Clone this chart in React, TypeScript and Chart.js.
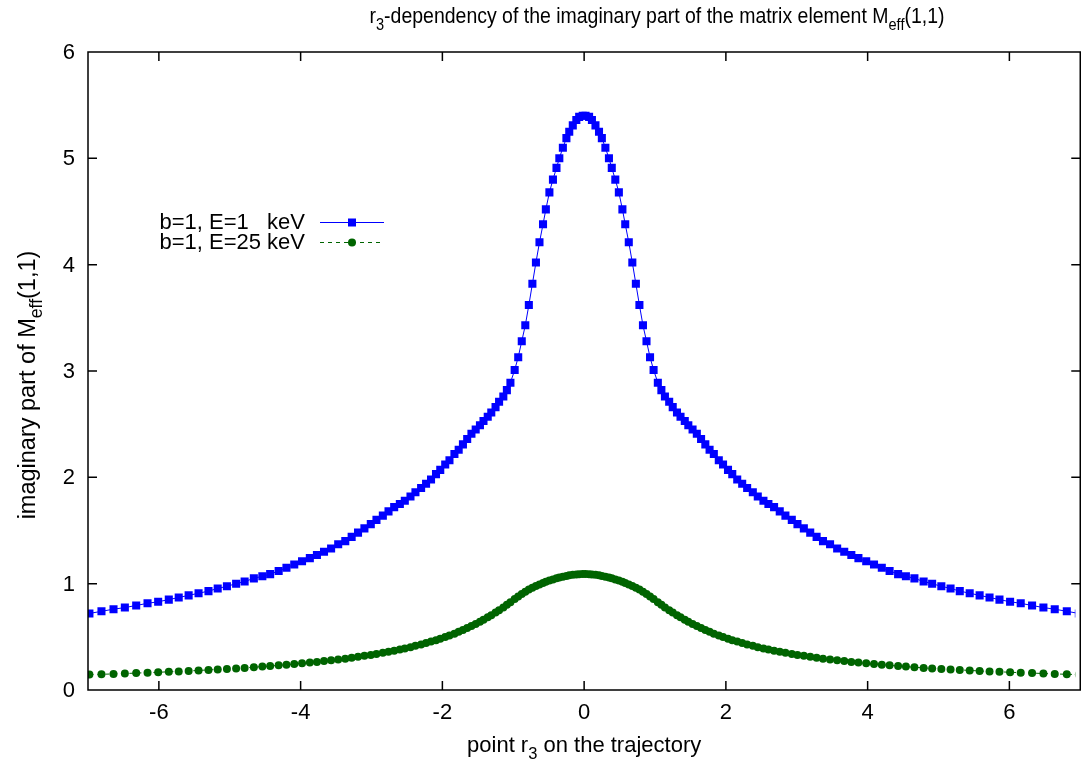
import React, { useEffect, useRef } from "react";
import { Chart, registerables } from "chart.js";

Chart.register(...registerables);

// r3 sample positions along the trajectory
const xValues = [
  -6.98, -6.81, -6.64, -6.48, -6.32, -6.16, -6.01, -5.86, -5.72, -5.58, -5.44, -5.30, -5.17, -5.04,
  -4.91, -4.79, -4.66, -4.54, -4.43, -4.31, -4.20, -4.09, -3.98, -3.87, -3.77, -3.67, -3.57, -3.47,
  -3.37, -3.28, -3.19, -3.10, -3.01, -2.93, -2.84, -2.76, -2.68, -2.60, -2.53, -2.45, -2.38, -2.30,
  -2.23, -2.16, -2.09, -2.03, -1.96, -1.90, -1.83, -1.77, -1.71, -1.65, -1.59, -1.53, -1.47, -1.42,
  -1.36, -1.31, -1.25, -1.20, -1.14, -1.09, -1.04, -0.98, -0.93, -0.88, -0.83, -0.78, -0.73, -0.68,
  -0.63, -0.58, -0.54, -0.49, -0.44, -0.39, -0.35, -0.30, -0.25, -0.21, -0.16, -0.11, -0.07, -0.02,
  0.02, 0.07, 0.11, 0.16, 0.21, 0.25, 0.30, 0.35, 0.39, 0.44, 0.49, 0.54, 0.58, 0.63,
  0.68, 0.73, 0.78, 0.83, 0.88, 0.93, 0.98, 1.04, 1.09, 1.14, 1.20, 1.25, 1.31, 1.36,
  1.42, 1.47, 1.53, 1.59, 1.65, 1.71, 1.77, 1.83, 1.90, 1.96, 2.03, 2.09, 2.16, 2.23,
  2.30, 2.38, 2.45, 2.53, 2.60, 2.68, 2.76, 2.84, 2.93, 3.01, 3.10, 3.19, 3.28, 3.37,
  3.47, 3.57, 3.67, 3.77, 3.87, 3.98, 4.09, 4.20, 4.31, 4.43, 4.54, 4.66, 4.79, 4.91,
  5.04, 5.17, 5.30, 5.44, 5.58, 5.72, 5.86, 6.01, 6.16, 6.32, 6.48, 6.64, 6.81, 6.98,
];

// b=1, E=1 keV
const blueValues = [
  0.72, 0.74, 0.76, 0.775, 0.795, 0.815, 0.83, 0.85, 0.87, 0.89, 0.91, 0.93, 0.955, 0.975,
  1.00, 1.02, 1.05, 1.07, 1.09, 1.12, 1.15, 1.18, 1.21, 1.24, 1.27, 1.30, 1.33, 1.37,
  1.40, 1.44, 1.48, 1.52, 1.56, 1.60, 1.64, 1.68, 1.72, 1.75, 1.78, 1.82, 1.86, 1.90,
  1.94, 1.98, 2.03, 2.07, 2.12, 2.16, 2.22, 2.26, 2.31, 2.36, 2.41, 2.45, 2.49, 2.53,
  2.57, 2.61, 2.66, 2.71, 2.76, 2.82, 2.89, 3.01, 3.13, 3.28, 3.43, 3.62, 3.82, 4.02,
  4.21, 4.38, 4.52, 4.68, 4.80, 4.91, 5.00, 5.10, 5.19, 5.25, 5.31, 5.36, 5.39, 5.40,
  5.40, 5.39, 5.36, 5.31, 5.25, 5.19, 5.10, 5.00, 4.91, 4.80, 4.68, 4.52, 4.38, 4.21,
  4.02, 3.82, 3.62, 3.43, 3.28, 3.13, 3.01, 2.89, 2.82, 2.76, 2.71, 2.66, 2.61, 2.57,
  2.53, 2.49, 2.45, 2.41, 2.36, 2.31, 2.26, 2.22, 2.16, 2.12, 2.07, 2.03, 1.98, 1.94,
  1.90, 1.86, 1.82, 1.78, 1.75, 1.72, 1.68, 1.64, 1.60, 1.56, 1.52, 1.48, 1.44, 1.40,
  1.37, 1.33, 1.30, 1.27, 1.24, 1.21, 1.18, 1.15, 1.12, 1.09, 1.07, 1.05, 1.02, 1.00,
  0.975, 0.955, 0.93, 0.91, 0.89, 0.87, 0.85, 0.83, 0.815, 0.795, 0.775, 0.76, 0.74, 0.72,
];

// b=1, E=25 keV
const greenValues = [
  0.145, 0.148, 0.151, 0.155, 0.159, 0.163, 0.167, 0.171, 0.175, 0.179, 0.184, 0.189, 0.193, 0.198,
  0.203, 0.208, 0.214, 0.220, 0.225, 0.232, 0.238, 0.244, 0.251, 0.258, 0.264, 0.272, 0.279, 0.287,
  0.295, 0.304, 0.312, 0.321, 0.330, 0.339, 0.350, 0.359, 0.370, 0.381, 0.391, 0.403, 0.415, 0.429,
  0.441, 0.455, 0.469, 0.482, 0.498, 0.513, 0.530, 0.547, 0.564, 0.582, 0.601, 0.621, 0.642, 0.660,
  0.683, 0.703, 0.729, 0.750, 0.777, 0.801, 0.826, 0.855, 0.879, 0.903, 0.925, 0.944, 0.961, 0.977,
  0.992, 1.006, 1.017, 1.029, 1.040, 1.050, 1.058, 1.066, 1.073, 1.078, 1.083, 1.087, 1.089, 1.090,
  1.090, 1.089, 1.087, 1.083, 1.078, 1.073, 1.066, 1.058, 1.050, 1.040, 1.029, 1.017, 1.006, 0.992,
  0.977, 0.961, 0.944, 0.925, 0.903, 0.879, 0.855, 0.826, 0.801, 0.777, 0.750, 0.729, 0.703, 0.683,
  0.660, 0.642, 0.621, 0.601, 0.582, 0.564, 0.547, 0.530, 0.513, 0.498, 0.482, 0.469, 0.455, 0.441,
  0.429, 0.415, 0.403, 0.391, 0.381, 0.370, 0.359, 0.350, 0.339, 0.330, 0.321, 0.312, 0.304, 0.295,
  0.287, 0.279, 0.272, 0.264, 0.258, 0.251, 0.244, 0.238, 0.232, 0.225, 0.220, 0.214, 0.208, 0.203,
  0.198, 0.193, 0.189, 0.184, 0.179, 0.175, 0.171, 0.167, 0.163, 0.159, 0.155, 0.151, 0.148, 0.145,
];

const xTickValues = [-6, -4, -2, 0, 2, 4, 6];
const yTickValues = [0, 1, 2, 3, 4, 5, 6];
const seriesLabels = ["b=1, E=1   keV", "b=1, E=25 keV"];
const xRange = [-7, 7];
const xVisibleMax = 6.93;
const yRange = [0, 6];

const FONT = "'Liberation Sans', Arial, Helvetica, sans-serif";

type Part = { t: string; sub?: boolean };

const titleParts: Part[] = [
  { t: "r" }, { t: "3", sub: true },
  { t: "-dependency of the imaginary part of the matrix element M" },
  { t: "eff", sub: true }, { t: "(1,1)" },
];
const xLabelParts: Part[] = [{ t: "point r" }, { t: "3", sub: true }, { t: " on the trajectory" }];
const yLabelParts: Part[] = [{ t: "imaginary part of M" }, { t: "eff", sub: true }, { t: "(1,1)" }];

function measureRich(ctx: CanvasRenderingContext2D, parts: Part[], size: number) {
  return parts.map((p) => {
    ctx.font = `${p.sub ? size * 0.75 : size}px ${FONT}`;
    return ctx.measureText(p.t).width;
  });
}

function drawRich(ctx: CanvasRenderingContext2D, parts: Part[], x: number, y: number, size: number, align: "left" | "center" | "right", fitWidth?: number) {
  const subSize = size * 0.75;
  const widths = measureRich(ctx, parts, size);
  const total = widths.reduce((a, b) => a + b, 0);
  const sx = fitWidth ? fitWidth / total : 1;
  ctx.save();
  ctx.translate(x, y);
  ctx.scale(sx, 1);
  let cx = align === "center" ? -total / 2 : align === "right" ? -total : 0;
  ctx.textAlign = "left";
  ctx.textBaseline = "alphabetic";
  parts.forEach((p, i) => {
    ctx.font = `${p.sub ? subSize : size}px ${FONT}`;
    ctx.fillText(p.t, cx, p.sub ? size * 0.3 : 0);
    cx += widths[i];
  });
  ctx.restore();
}

const framePlugin = {
  id: "gnuplotFrame",
  afterDatasetsDraw(chart: any) {
    const ctx: CanvasRenderingContext2D = chart.ctx;
    const xs = chart.scales.x;
    const ys = chart.scales.y;
    const left = xs.getPixelForValue(xRange[0]);
    const right = xs.getPixelForValue(xRange[1]);
    const top = ys.getPixelForValue(yRange[1]);
    const bottom = ys.getPixelForValue(yRange[0]);
    const tick = 9;
    ctx.save();
    ctx.strokeStyle = "#000";
    ctx.lineWidth = 1.5;
    ctx.beginPath();
    ctx.rect(left, top, right - left, bottom - top);
    xTickValues.forEach((v) => {
      const px = xs.getPixelForValue(v);
      ctx.moveTo(px, bottom); ctx.lineTo(px, bottom - tick);
      ctx.moveTo(px, top); ctx.lineTo(px, top + tick);
    });
    yTickValues.forEach((v) => {
      const py = ys.getPixelForValue(v);
      ctx.moveTo(left, py); ctx.lineTo(left + tick, py);
      ctx.moveTo(right, py); ctx.lineTo(right - tick, py);
    });
    ctx.stroke();

    // tick labels
    ctx.fillStyle = "#000";
    ctx.font = `22px ${FONT}`;
    ctx.textBaseline = "middle";
    ctx.textAlign = "right";
    yTickValues.forEach((v) => ctx.fillText(String(v), left - 13, ys.getPixelForValue(v) + 1));
    ctx.textAlign = "center";
    xTickValues.forEach((v) => ctx.fillText(String(v), xs.getPixelForValue(v), bottom + 23));

    // titles
    drawRich(ctx, titleParts, 657, 23, 22, "center", 575);
    drawRich(ctx, xLabelParts, (left + right) / 2, 752, 22, "center");
    ctx.save();
    ctx.translate(27, 385);
    ctx.rotate(-Math.PI / 2);
    drawRich(ctx, yLabelParts, 0, 8, 23.5, "center");
    ctx.restore();

    // legend
    const ds = chart.data.datasets;
    const rows = [222, 242];
    ds.forEach((d: any, i: number) => {
      const y = rows[i];
      ctx.font = `22px ${FONT}`;
      ctx.textAlign = "right";
      ctx.textBaseline = "middle";
      ctx.fillStyle = "#000";
      ctx.fillText(d.label, 305, y + 1);
      ctx.save();
      ctx.strokeStyle = d.borderColor;
      ctx.lineWidth = 1;
      ctx.setLineDash(d.borderDash || []);
      ctx.beginPath();
      ctx.moveTo(320, y + 0.5);
      ctx.lineTo(384, y + 0.5);
      ctx.stroke();
      ctx.restore();
      ctx.fillStyle = d.backgroundColor;
      if (d.pointStyle === "rect") {
        ctx.fillRect(352 - 4, y - 3.5, 8, 8);
      } else {
        ctx.beginPath();
        ctx.arc(352, y + 0.5, 4, 0, Math.PI * 2);
        ctx.fill();
      }
    });
    ctx.restore();
  },
};

export default function App() {
  const canvasRef = useRef<HTMLCanvasElement | null>(null);

  useEffect(() => {
    document.body.style.margin = "0";
    const canvas = canvasRef.current;
    if (!canvas) return;
    const chart = new Chart(canvas, {
      type: "line",
      data: {
        datasets: [
          {
            label: seriesLabels[0],
            data: xValues.map((x, i) => ({ x, y: blueValues[i] })),
            borderColor: "#0000ff",
            backgroundColor: "#0000ff",
            borderWidth: 1,
            pointStyle: "rect",
            pointRadius: 5.7,
            pointBorderWidth: 0,
            pointHoverRadius: 5.7,
            tension: 0,
          },
          {
            label: seriesLabels[1],
            data: xValues.map((x, i) => ({ x, y: greenValues[i] })),
            borderColor: "#006400",
            backgroundColor: "#006400",
            borderWidth: 1,
            borderDash: [4, 4],
            pointStyle: "circle",
            pointRadius: 4,
            pointBorderWidth: 0,
            pointHoverRadius: 4,
            tension: 0,
          },
        ],
      },
      options: {
        animation: false,
        responsive: false,
        events: [],
        layout: { padding: { left: 88, top: 52, right: 0, bottom: 70 } },
        plugins: { legend: { display: false }, tooltip: { enabled: false }, title: { display: false } },
        scales: {
          x: { type: "linear", min: xRange[0], max: xVisibleMax, display: false },
          y: { type: "linear", min: yRange[0], max: yRange[1], display: false },
        },
      },
      plugins: [framePlugin],
    } as any);
    return () => chart.destroy();
  }, []);

  return (
    <div style={{ position: "absolute", left: 0, top: 0, width: 1081, height: 760, background: "#fff" }}>
      <canvas ref={canvasRef} width={1081} height={760} style={{ display: "block" }} />
    </div>
  );
}
